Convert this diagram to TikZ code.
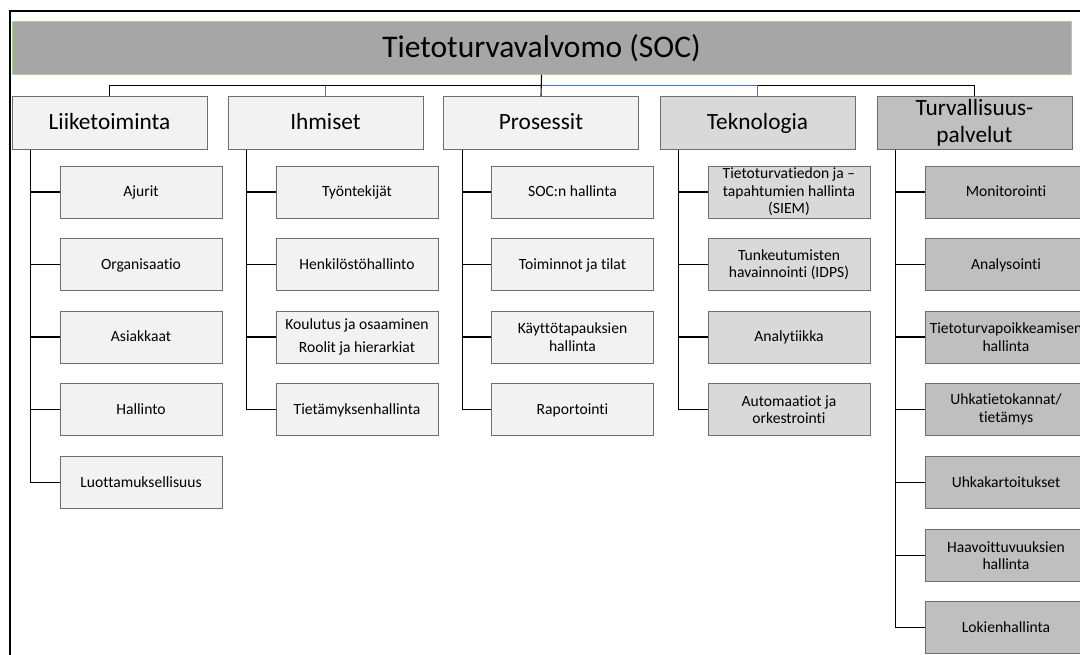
\documentclass[tikz,border=0pt]{standalone}
\usepackage{fontspec}
\setmainfont{Carlito}[Ligatures={NoCommon}]
\definecolor{boxline}{HTML}{6E6E6E}
\definecolor{titlefill}{HTML}{A6A6A6}
\definecolor{titleline}{HTML}{A9D18E}
\definecolor{lightfill}{HTML}{F2F2F2}
\definecolor{midfill}{HTML}{D9D9D9}
\definecolor{darkfill}{HTML}{BFBFBF}
\definecolor{linkblue}{HTML}{4472C4}
\begin{document}
\begin{tikzpicture}[x=1pt,y=-1pt,
  box/.style={draw=boxline,line width=0.9pt,align=center,inner sep=0pt,text=black},
  catbox/.style={box,minimum width=195pt,minimum height=53pt,font=\fontsize{23.3}{27}\selectfont},
  itembox/.style={box,minimum width=162pt,minimum height=52pt,font=\fontsize{15.6}{17.5}\selectfont},
  catline/.style={text height=16.5pt,text depth=4pt},
  itemline/.style={text height=11pt,text depth=2pt},
  conn/.style={draw=black,line width=1.1pt},
  connblue/.style={draw=linkblue,line width=1.1pt},
  branch/.style={draw=black,line width=1.1pt},
]
\clip (0,0) rectangle (1080,654);

% outer frame
\draw[line width=1.5pt] (10,670) -- (10,11) -- (1100,11);

% title bar
\node[box,draw=titleline,fill=titlefill,minimum width=1059pt,minimum height=53pt,
      text height=22pt,text depth=4pt,
      font=\fontsize{31.5}{36}\selectfont] (title) at (541.5,48) {Tietoturvavalvomo (SOC)};
\coordinate (bus) at (541,85.5);

% main areas
\node[catbox,catline,fill=lightfill] (liik) at (109.5,123) {Liiketoiminta};
\node[catbox,catline,fill=lightfill] (ihm)  at (325.5,123) {Ihmiset};
\node[catbox,catline,fill=lightfill] (pro)  at (541,123)   {Prosessit};
\node[catbox,catline,fill=midfill]   (tek)  at (757.5,123) {Teknologia};
\node[catbox,fill=darkfill]  (turv) at (974.5,123) {Turvallisuus-\\palvelut};

% links from the title to the areas
\draw[conn] (liik.north) |- (bus);
\draw[conn] (turv.north) |- (bus);
\draw[connblue] (tek.north) |- (bus);
\draw[connblue] (ihm.north) -- (ihm.north |- bus);
\draw[conn] (title.south) -- (pro.north);

% Liiketoiminta
\node[itembox,itemline,fill=lightfill] (l1) at (141,192)   {Ajurit};
\node[itembox,itemline,fill=lightfill] (l2) at (141,264.5) {Organisaatio};
\node[itembox,itemline,fill=lightfill] (l3) at (141,337)   {Asiakkaat};
\node[itembox,itemline,fill=lightfill] (l4) at (141,409.5) {Hallinto};
\node[itembox,itemline,fill=lightfill] (l5) at (141,482.5) {Luottamuksellisuus};
\foreach \c in {l1,l2,l3,l4,l5}
  \draw[branch] ([xshift=19pt]liik.south west) |- (\c.west);

% Ihmiset
\node[itembox,itemline,fill=lightfill] (i1) at (357,192)   {Työntekijät};
\node[itembox,itemline,fill=lightfill] (i2) at (357,264.5) {Henkilöstöhallinto};
\node[itembox,fill=lightfill,font=\fontsize{15.6}{23}\selectfont] (i3) at (357,337)
  {Koulutus ja osaaminen\\Roolit ja hierarkiat};
\node[itembox,itemline,fill=lightfill] (i4) at (357,409.5) {Tietämyksenhallinta};
\foreach \c in {i1,i2,i3,i4}
  \draw[branch] ([xshift=19pt]ihm.south west) |- (\c.west);

% Prosessit
\node[itembox,itemline,fill=lightfill] (p1) at (572.5,192)   {SOC:n hallinta};
\node[itembox,itemline,fill=lightfill] (p2) at (572.5,264.5) {Toiminnot ja tilat};
\node[itembox,fill=lightfill] (p3) at (572.5,337)   {Käyttötapauksien\\hallinta};
\node[itembox,itemline,fill=lightfill] (p4) at (572.5,409.5) {Raportointi};
\foreach \c in {p1,p2,p3,p4}
  \draw[branch] ([xshift=19pt]pro.south west) |- (\c.west);

% Teknologia
\node[itembox,fill=midfill] (t1) at (789,192)   {Tietoturvatiedon ja –\\tapahtumien hallinta\\(SIEM)};
\node[itembox,fill=midfill] (t2) at (789,264.5) {Tunkeutumisten\\havainnointi (IDPS)};
\node[itembox,itemline,fill=midfill] (t3) at (789,337)   {Analytiikka};
\node[itembox,fill=midfill] (t4) at (789,409.5) {Automaatiot ja\\orkestrointi};
\foreach \c in {t1,t2,t3,t4}
  \draw[branch] ([xshift=19pt]tek.south west) |- (\c.west);

% Turvallisuuspalvelut
\node[itembox,itemline,fill=darkfill] (s1) at (1006,192)   {Monitorointi};
\node[itembox,itemline,fill=darkfill] (s2) at (1006,264.5) {Analysointi};
\node[itembox,fill=darkfill] (s3) at (1006,337)   {Tietoturvapoikkeamisen\\hallinta};
\node[itembox,fill=darkfill] (s4) at (1006,409.5) {Uhkatietokannat/\\tietämys};
\node[itembox,itemline,fill=darkfill] (s5) at (1006,482.5) {Uhkakartoitukset};
\node[itembox,fill=darkfill] (s6) at (1006,555.5) {Haavoittuvuuksien\\hallinta};
\node[itembox,itemline,fill=darkfill] (s7) at (1006,627.5) {Lokienhallinta};
\foreach \c in {s1,s2,s3,s4,s5,s6,s7}
  \draw[branch] ([xshift=19pt]turv.south west) |- (\c.west);
\end{tikzpicture}
\end{document}
